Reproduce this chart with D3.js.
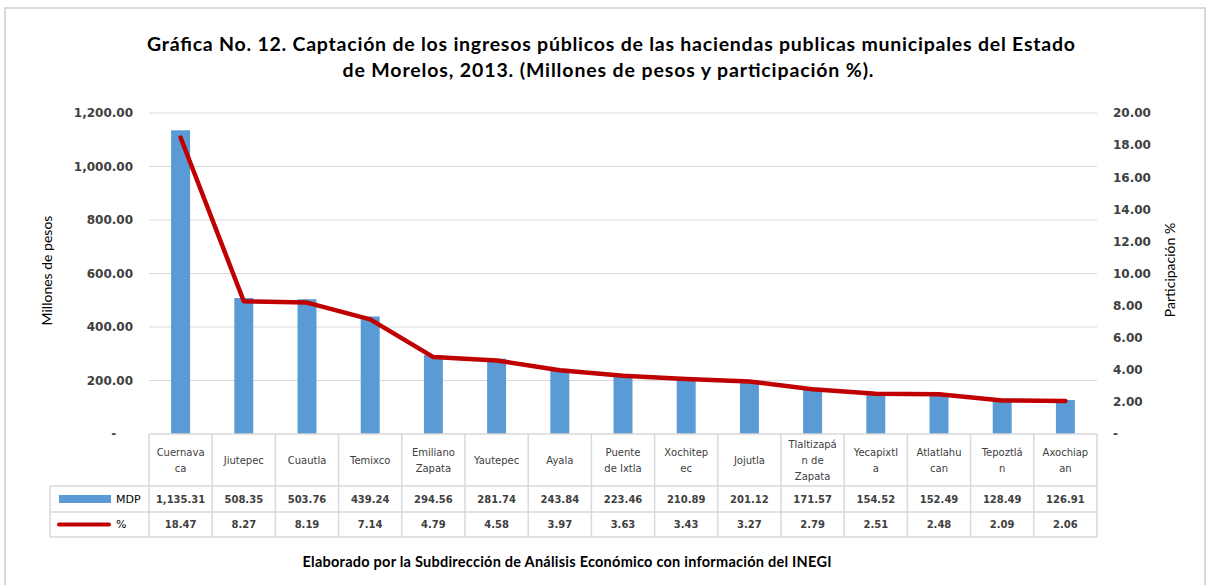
<!DOCTYPE html>
<html>
<head>
<meta charset="utf-8">
<script src="https://cdn.jsdelivr.net/npm/d3@7"></script>
<style>
  body { margin: 0; background: #fff; }
  svg { display: block; }
</style>
</head>
<body>
<script>
// Data
const municipios = ["Cuernavaca", "Jiutepec", "Cuautla", "Temixco", "Emiliano Zapata", "Yautepec", "Ayala",
  "Puente de Ixtla", "Xochitepec", "Jojutla", "Tlaltizapán de Zapata", "Yecapixtla", "Atlatlahucan", "Tepoztlán", "Axochiapan"];
const headerLines = [["Cuernava", "ca"], ["Jiutepec"], ["Cuautla"], ["Temixco"], ["Emiliano", "Zapata"], ["Yautepec"], ["Ayala"],
  ["Puente", "de Ixtla"], ["Xochitep", "ec"], ["Jojutla"], ["Tlaltizapá", "n de", "Zapata"], ["Yecapixtl", "a"], ["Atlatlahu", "can"], ["Tepoztlá", "n"], ["Axochiap", "an"]];
const mdp = [1135.31, 508.35, 503.76, 439.24, 294.56, 281.74, 243.84, 223.46, 210.89, 201.12, 171.57, 154.52, 152.49, 128.49, 126.91];
const pct = [18.47, 8.27, 8.19, 7.14, 4.79, 4.58, 3.97, 3.63, 3.43, 3.27, 2.79, 2.51, 2.48, 2.09, 2.06];
const leftTicks = [0, 200, 400, 600, 800, 1000, 1200];
const rightTicks = [0, 2, 4, 6, 8, 10, 12, 14, 16, 18, 20];
const titleLines = ["Gráfica No. 12. Captación de los ingresos públicos de las haciendas publicas municipales del Estado",
  "de Morelos, 2013. (Millones de pesos y participación %)."];
const footer = "Elaborado por la Subdirección de Análisis Económico con información del INEGI";

const W = 1210, H = 585;
const plot = { left: 149, right: 1097, top: 113, bottom: 434 };
const table = { left: 50, headBottom: 486, row1Bottom: 512, row2Bottom: 537 };
const grey = "#d9d9d9", text = "#404040";
const blue = "#5B9BD5", red = "#C00000";
const fmt = d3.format(",.2f");
const tickFmt = d => d === 0 ? "-\u2007\u2007" : fmt(d);

const svg = d3.select("body").append("svg")
  .attr("width", W)
  .attr("height", H);

// outer frame
svg.append("rect")
  .attr("x", 5).attr("y", 8)
  .attr("width", 1200).attr("height", 590)
  .attr("fill", "#fff")
  .attr("stroke", grey)
  .attr("stroke-width", 2);

// title (Calibri is not available, so Lato is spread to the original width)
const titleSpec = [{ cx: 611, y: 51, len: 928 }, { cx: 608, y: 77, len: 531 }];
svg.append("g").selectAll("text")
  .data(titleLines)
  .join("text")
  .attr("x", (d, i) => titleSpec[i].cx)
  .attr("y", (d, i) => titleSpec[i].y)
  .attr("text-anchor", "middle")
  .attr("textLength", (d, i) => titleSpec[i].len)
  .attr("lengthAdjust", "spacing")
  .attr("font-family", "Lato, 'Open Sans', sans-serif")
  .attr("font-weight", "bold")
  .attr("font-size", 19.5)
  .attr("fill", "#000")
  .text(d => d);

// scales
const x = d3.scaleBand()
  .domain(municipios)
  .range([plot.left, plot.right]);
const xBar = d3.scaleBand()
  .domain(municipios)
  .range([plot.left, plot.right])
  .paddingInner(0.7)
  .paddingOuter(0.35);
const yLeft = d3.scaleLinear().domain([0, 1200]).range([plot.bottom, plot.top]);
const yRight = d3.scaleLinear().domain([0, 20]).range([plot.bottom, plot.top]);

// gridlines
svg.append("g")
  .selectAll("line")
  .data(leftTicks.filter(d => d > 0))
  .join("line")
  .attr("x1", plot.left).attr("x2", plot.right)
  .attr("y1", d => yLeft(d)).attr("y2", d => yLeft(d))
  .attr("stroke", grey)
  .attr("stroke-width", 1);

// axes
const styleAxis = g => {
  g.select(".domain").remove();
  g.selectAll("text")
    .attr("font-family", "'DejaVu Sans', Verdana, sans-serif")
    .attr("font-weight", "bold")
    .attr("font-size", 12)
    .attr("fill", text);
};
svg.append("g")
  .attr("transform", `translate(${plot.left},0)`)
  .call(d3.axisLeft(yLeft).tickValues(leftTicks).tickSize(0).tickPadding(16).tickFormat(tickFmt))
  .call(styleAxis);
svg.append("g")
  .attr("transform", `translate(${plot.right},0)`)
  .call(d3.axisRight(yRight).tickValues(rightTicks).tickSize(0).tickPadding(16).tickFormat(tickFmt))
  .call(styleAxis);

// axis titles
svg.append("text")
  .attr("transform", `translate(52,${(plot.top + plot.bottom) / 2 - 3}) rotate(-90)`)
  .attr("text-anchor", "middle")
  .attr("font-family", "Lato, 'Open Sans', sans-serif")
  .attr("font-size", 14)
  .attr("fill", "#000")
  .text("Millones de pesos");
svg.append("text")
  .attr("transform", `translate(1175,270) rotate(-90)`)
  .attr("text-anchor", "middle")
  .attr("font-family", "Lato, 'Open Sans', sans-serif")
  .attr("font-size", 14)
  .attr("fill", "#000")
  .text("Participación %");

// bars
svg.append("g")
  .selectAll("rect")
  .data(municipios)
  .join("rect")
  .attr("x", d => xBar(d))
  .attr("width", xBar.bandwidth())
  .attr("y", (d, i) => yLeft(mdp[i]))
  .attr("height", (d, i) => yLeft(0) - yLeft(mdp[i]))
  .attr("fill", blue);

// line
const line = d3.line()
  .x((d, i) => x(municipios[i]) + x.bandwidth() / 2)
  .y(d => yRight(d));
svg.append("path")
  .datum(pct)
  .attr("d", line)
  .attr("fill", "none")
  .attr("stroke", red)
  .attr("stroke-width", 4.5)
  .attr("stroke-linejoin", "round")
  .attr("stroke-linecap", "round");

// data table
const tbl = svg.append("g")
  .attr("stroke", grey)
  .attr("stroke-width", 1.5);
// horizontal borders
tbl.append("line").attr("x1", plot.left).attr("x2", plot.right).attr("y1", plot.bottom).attr("y2", plot.bottom);
[table.headBottom, table.row1Bottom, table.row2Bottom].forEach(y => {
  tbl.append("line").attr("x1", table.left).attr("x2", plot.right).attr("y1", y).attr("y2", y);
});
// vertical borders
tbl.selectAll("line.v")
  .data(municipios.concat(["end"]))
  .join("line")
  .attr("class", "v")
  .attr("x1", (d, i) => plot.left + i * x.step())
  .attr("x2", (d, i) => plot.left + i * x.step())
  .attr("y1", plot.bottom)
  .attr("y2", table.row2Bottom);
tbl.append("line").attr("x1", table.left).attr("x2", table.left).attr("y1", table.headBottom).attr("y2", table.row2Bottom);

// header labels
const head = svg.append("g")
  .attr("font-family", "'DejaVu Sans', Verdana, sans-serif")
  .attr("font-size", 10)
  .attr("fill", text)
  .attr("text-anchor", "middle");
municipios.forEach((m, i) => {
  const lines = headerLines[i];
  const cx = x(m) + x.bandwidth() / 2;
  const top = 460 - (lines.length - 1) * 16 / 2;
  lines.forEach((l, j) => {
    head.append("text")
      .attr("x", cx)
      .attr("y", top + j * 16)
      .attr("dy", "0.35em")
      .text(l);
  });
});

// value rows
const rows = [
  { values: mdp, y: (table.headBottom + table.row1Bottom) / 2 },
  { values: pct, y: (table.row1Bottom + table.row2Bottom) / 2 }
];
const vals = svg.append("g")
  .attr("font-family", "'DejaVu Sans', Verdana, sans-serif")
  .attr("font-weight", "bold")
  .attr("font-size", 10)
  .attr("fill", text)
  .attr("text-anchor", "middle");
rows.forEach(r => {
  vals.selectAll(null)
    .data(r.values)
    .join("text")
    .attr("x", (d, i) => x(municipios[i]) + x.bandwidth() / 2)
    .attr("y", r.y)
    .attr("dy", "0.35em")
    .text(d => fmt(d));
});

// legend keys in the table
svg.append("rect")
  .attr("x", 59).attr("y", rows[0].y - 4)
  .attr("width", 52).attr("height", 8)
  .attr("fill", blue);
svg.append("line")
  .attr("x1", 59).attr("x2", 109)
  .attr("y1", rows[1].y).attr("y2", rows[1].y)
  .attr("stroke", red)
  .attr("stroke-width", 4)
  .attr("stroke-linecap", "round");
svg.append("g")
  .attr("font-family", "'DejaVu Sans', Verdana, sans-serif")
  .attr("font-size", 11)
  .attr("fill", "#000")
  .selectAll("text")
  .data(["MDP", "%"])
  .join("text")
  .attr("x", 116)
  .attr("y", (d, i) => rows[i].y)
  .attr("dy", "0.35em")
  .text(d => d);

// footer
svg.append("text")
  .attr("x", 567)
  .attr("y", 567)
  .attr("text-anchor", "middle")
  .attr("textLength", 529)
  .attr("lengthAdjust", "spacing")
  .attr("font-family", "Lato, 'Open Sans', sans-serif")
  .attr("font-weight", "bold")
  .attr("font-size", 14.5)
  .attr("fill", "#000")
  .text(footer);
</script>
</body>
</html>
